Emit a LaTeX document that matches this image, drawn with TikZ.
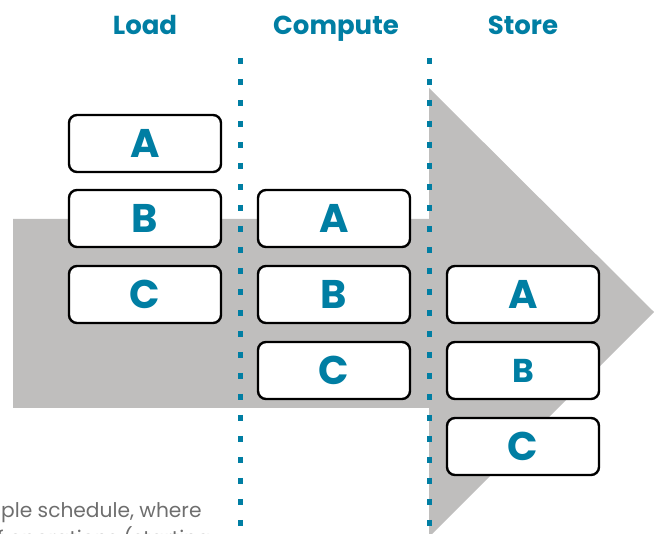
\documentclass[tikz,border=0pt]{standalone}
\usepackage{fontspec}
\setmainfont{Poppins}
\definecolor{teal}{RGB}{0,126,163}
\definecolor{arrowgray}{RGB}{191,190,189}
\definecolor{textgray}{RGB}{110,110,110}
\begin{document}
\begin{tikzpicture}[x=1pt,y=-1pt,
  slot/.style={draw=black,line width=2.4pt,fill=white,rounded corners=8pt,
    minimum width=152pt,minimum height=57pt,inner sep=0pt,
    text=teal,font=\fontsize{40}{40}\selectfont\bfseries},
  slotsmall/.style={slot,font=\fontsize{33}{33}\selectfont\bfseries},
  header/.style={anchor=base,text=teal,inner sep=0pt,font=\fontsize{26}{26}\selectfont\bfseries},
  divider/.style={draw=teal,line width=5pt,dash pattern=on 6.5pt off 14.5pt},
  caption/.style={anchor=base west,inner sep=0pt,text=textgray,font=\fontsize{20.2}{20.2}\selectfont}]
\useasboundingbox (0,0) rectangle (654,534);
% big arrow
\fill[arrowgray] (13,219) -- (429,219) -- (429,88) -- (654,312) -- (429,537) -- (429,408) -- (13,408) -- cycle;
% dividers
\coordinate (d1t) at (240,58);
\coordinate (d1b) at (240,540);
\coordinate (d2t) at (429,58);
\coordinate (d2b) at (429,540);
\draw[divider] (d1t) -- (d1b);
\draw[divider] (d2t) -- (d2b);
% headers
\node[header] (hload) at (145,35) {Load};
\node[header] (hcomp) at (336,35) {Compute};
\node[header] (hstore) at (523,35) {Store};
% load column
\node[slot] (la) at (145,143.5) {A};
\node[slot] (lb) at (145,218.5) {B};
\node[slot] (lc) at (145,294.5) {C};
% compute column
\node[slot] (ca) at (334,218.5) {A};
\node[slot] (cb) at (334,294.5) {B};
\node[slot] (cc) at (334,370.5) {C};
% store column
\node[slot] (sa) at (523,294.5) {A};
\node[slotsmall] (sb) at (523,370.5) {B};
\node[slot] (sc) at (523,446.5) {C};
% caption fragment
\node[caption] (cap1) at (1,518) {ple schedule, where};
\node[caption] (cap2) at (-3,546) {f operations (starting};
\end{tikzpicture}
\end{document}
